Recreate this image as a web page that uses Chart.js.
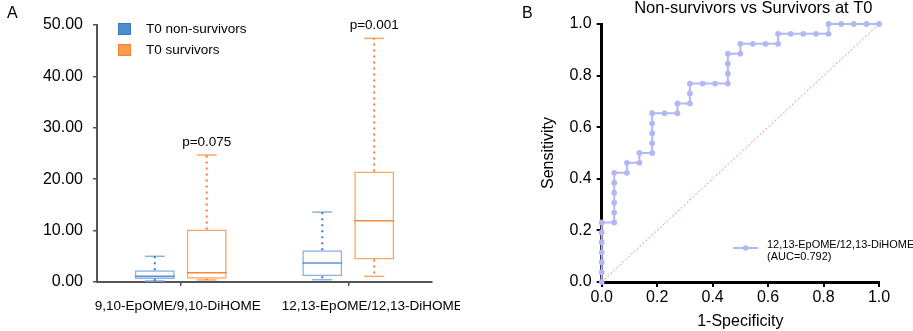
<html>

<head>
    <meta charset="utf-8">
    <title>EpOME / DiHOME</title>
    <script src="https://cdn.jsdelivr.net/npm/chart.js@4.4.1/dist/chart.umd.min.js"></script>
    <style>
        body { margin: 0; background: #fff; }
        canvas { position: absolute; top: 0; }
    </style>
</head>

<body>
    <canvas id="boxChart" width="460" height="331" style="left:0px"></canvas>
    <canvas id="rocChart" width="453" height="331" style="left:460px"></canvas>
    <script>
        // panel A: box plot values
        const categories = ['9,10-EpOME/9,10-DiHOME', '12,13-EpOME/12,13-DiHOME'];
        const nonSurvMin = [0.2, 0.45];
        const nonSurvQ1 = [0.6, 1.1];
        const nonSurvMed = [1.1, 3.7];
        const nonSurvQ3 = [2.3, 6.2];
        const nonSurvMax = [5.0, 13.6];
        const survMin = [0.4, 1.1];
        const survQ1 = [0.65, 4.4];
        const survMed = [1.8, 11.9];
        const survQ3 = [10.2, 21.5];
        const survMax = [24.7, 47.4];
        const pLabels = ['p=0.075', 'p=0.001'];

        // panel B: ROC curve
        const rocFpr = [0, 0, 0, 0, 0, 0, 0,
            0.045, 0.045, 0.045, 0.045, 0.045, 0.045,
            0.091, 0.091, 0.136, 0.136,
            0.182, 0.182, 0.182, 0.182, 0.182,
            0.227, 0.273, 0.273,
            0.318, 0.318, 0.318, 0.364, 0.409,
            0.455, 0.455, 0.455, 0.455,
            0.5, 0.5, 0.545, 0.591, 0.636, 0.636,
            0.682, 0.727, 0.773, 0.818, 0.818,
            0.864, 0.909, 0.955, 1.0];
        const rocSens = [0, 0.038, 0.077, 0.115, 0.154, 0.192, 0.231,
            0.231, 0.269, 0.308, 0.346, 0.385, 0.423,
            0.423, 0.462, 0.462, 0.5,
            0.5, 0.538, 0.577, 0.615, 0.654,
            0.654, 0.654, 0.692,
            0.692, 0.731, 0.769, 0.769, 0.769,
            0.769, 0.808, 0.846, 0.885,
            0.885, 0.923, 0.923, 0.923, 0.923, 0.962,
            0.962, 0.962, 0.962, 0.962, 1.0,
            1.0, 1.0, 1.0, 1.0];
        const refX = [0, 1];
        const refY = [0, 1];
        const rocLabel = ['12,13-EpOME/12,13-DiHOME', '(AUC=0.792)'];

        const FONT = "'Liberation Sans', Arial, sans-serif";
        const TEXT = '#000';
        const AXIS_GREY = '#555';
        Chart.defaults.font.family = FONT;
        Chart.defaults.color = TEXT;

        const BLUE = { box: '#8ab4e2', median: '#5d93d1', dot: '#3d7fc4', fill: '#4d8dcd', edge: '#3b78ba' };
        const ORANGE = { box: '#f8a764', median: '#f48a3c', dot: '#f47a2c', fill: '#fc9b4e', edge: '#f4822f' };

        function boxDataset(label, q1, q3, lo, med, hi, col) {
            return {
                label: label,
                data: q1.map((v, i) => [v, q3[i]]),
                lo: lo, med: med, hi: hi, col: col,
                backgroundColor: 'rgba(255,255,255,0)',
                borderColor: col.box,
                borderWidth: 1.5,
                borderSkipped: false,
                categoryPercentage: 0.62,
                barPercentage: 0.77
            };
        }

        // medians, whiskers, caps, p-values, legend and labels
        const boxPlugin = {
            id: 'boxExtras',
            afterDatasetsDraw(chart) {
                const ctx = chart.ctx;
                const y = chart.scales.y;
                const ca = chart.chartArea;
                ctx.save();
                chart.data.datasets.forEach((ds, di) => {
                    chart.getDatasetMeta(di).data.forEach((bar, i) => {
                        const half = bar.width / 2;
                        // median
                        ctx.strokeStyle = ds.col.median;
                        ctx.lineWidth = 1.5;
                        ctx.setLineDash([]);
                        ctx.beginPath();
                        ctx.moveTo(bar.x - half, y.getPixelForValue(ds.med[i]));
                        ctx.lineTo(bar.x + half, y.getPixelForValue(ds.med[i]));
                        ctx.stroke();
                        // caps
                        ctx.strokeStyle = ds.col.box;
                        [ds.lo[i], ds.hi[i]].forEach(v => {
                            ctx.beginPath();
                            ctx.moveTo(bar.x - half / 2, y.getPixelForValue(v));
                            ctx.lineTo(bar.x + half / 2, y.getPixelForValue(v));
                            ctx.stroke();
                        });
                        // dotted whiskers
                        ctx.strokeStyle = ds.col.dot;
                        ctx.lineWidth = 2;
                        ctx.setLineDash([2, 4]);
                        ctx.beginPath();
                        ctx.moveTo(bar.x, y.getPixelForValue(ds.data[i][1]));
                        ctx.lineTo(bar.x, y.getPixelForValue(ds.hi[i]));
                        ctx.moveTo(bar.x, y.getPixelForValue(ds.data[i][0]));
                        ctx.lineTo(bar.x, y.getPixelForValue(ds.lo[i]));
                        ctx.stroke();
                        ctx.setLineDash([]);
                        if (di === 1) {
                            ctx.fillStyle = TEXT;
                            ctx.font = '13.5px ' + FONT;
                            ctx.textAlign = 'center';
                            ctx.textBaseline = 'middle';
                            ctx.fillText(pLabels[i], bar.x, y.getPixelForValue(ds.hi[i]) - 13);
                        }
                    });
                });
                // legend
                ctx.font = '13.5px ' + FONT;
                ctx.textAlign = 'left';
                ctx.textBaseline = 'middle';
                chart.data.datasets.forEach((ds, di) => {
                    const ly = ca.top - 2 + di * 21;
                    ctx.fillStyle = ds.col.fill;
                    ctx.fillRect(ca.left + 21, ly, 13, 12);
                    ctx.strokeStyle = ds.col.edge;
                    ctx.lineWidth = 1;
                    ctx.strokeRect(ca.left + 21.5, ly + 0.5, 12, 11);
                    ctx.fillStyle = TEXT;
                    ctx.fillText(ds.label, ca.left + 49, ly + 6);
                });
                // category labels
                const x = chart.scales.x;
                const labelShift = [-3, 24];
                ctx.textAlign = 'center';
                categories.forEach((c, i) => {
                    ctx.fillText(c, x.getPixelForValue(i) + labelShift[i], ca.bottom + 24);
                });
                ctx.font = '16px ' + FONT;
                ctx.textAlign = 'left';
                ctx.fillText('A', 7, 14);
                ctx.restore();
            }
        };

        const boxChart = new Chart(document.getElementById('boxChart'), {
            type: 'bar',
            data: {
                labels: categories,
                datasets: [
                    boxDataset('T0 non-survivors', nonSurvQ1, nonSurvQ3, nonSurvMin, nonSurvMed, nonSurvMax, BLUE),
                    boxDataset('T0 survivors', survQ1, survQ3, survMin, survMed, survMax, ORANGE)
                ]
            },
            options: {
                responsive: false,
                animation: false,
                layout: { padding: { top: 25, right: 28, left: 0, bottom: 0 } },
                plugins: { legend: { display: false }, tooltip: { enabled: false } },
                scales: {
                    x: {
                        grid: { offset: false, drawOnChartArea: false, tickLength: 4, color: AXIS_GREY, lineWidth: 1.5 },
                        border: { color: AXIS_GREY, width: 2 },
                        ticks: { display: false },
                        afterFit: s => { s.height = 49; }
                    },
                    y: {
                        min: 0,
                        max: 50,
                        ticks: { stepSize: 10, callback: v => v.toFixed(2), padding: 10, font: { size: 16 } },
                        grid: { drawOnChartArea: false, tickLength: 4, color: AXIS_GREY, lineWidth: 1.5 },
                        border: { color: AXIS_GREY, width: 2 },
                        afterFit: s => { s.width = 97; }
                    }
                }
            },
            plugins: [boxPlugin]
        });

        // title, panel letter and legend of the ROC panel
        const rocPlugin = {
            id: 'rocExtras',
            afterDraw(chart) {
                const ctx = chart.ctx;
                const ca = chart.chartArea;
                const ds = chart.data.datasets[0];
                ctx.save();
                ctx.fillStyle = TEXT;
                ctx.textBaseline = 'middle';
                ctx.font = '16.5px ' + FONT;
                ctx.textAlign = 'center';
                ctx.fillText('Non-survivors vs Survivors at T0', (ca.left + ca.right) / 2 + 13, 8);
                ctx.font = '16px ' + FONT;
                ctx.textAlign = 'left';
                ctx.fillText('B', 62, 14);
                // legend
                const lx = ca.right - 146, ly = ca.bottom - 34;
                ctx.strokeStyle = ds.borderColor;
                ctx.lineWidth = 2;
                ctx.beginPath();
                ctx.moveTo(lx, ly);
                ctx.lineTo(lx + 25, ly);
                ctx.stroke();
                ctx.fillStyle = ds.backgroundColor;
                ctx.beginPath();
                ctx.arc(lx + 12.5, ly, 2.8, 0, Math.PI * 2);
                ctx.fill();
                ctx.fillStyle = TEXT;
                ctx.font = '11px ' + FONT;
                ctx.fillText(rocLabel[0], lx + 34, ly - 3);
                ctx.fillText(rocLabel[1], lx + 34, ly + 9);
                ctx.restore();
            }
        };

        const rocChart = new Chart(document.getElementById('rocChart'), {
            type: 'scatter',
            data: {
                datasets: [
                    {
                        label: rocLabel.join(' '),
                        data: rocFpr.map((v, i) => ({ x: v, y: rocSens[i] })),
                        showLine: true,
                        borderColor: '#b3b8f5',
                        backgroundColor: '#b3b8f5',
                        borderWidth: 2,
                        pointRadius: 2.9,
                        pointBorderWidth: 0,
                        clip: false
                    },
                    {
                        label: 'reference',
                        data: refX.map((v, i) => ({ x: v, y: refY[i] })),
                        showLine: true,
                        borderColor: '#f28a8a',
                        borderWidth: 1,
                        borderDash: [2, 2],
                        pointRadius: 0
                    }
                ]
            },
            options: {
                responsive: false,
                animation: false,
                layout: { padding: { top: 24, right: 34, left: 75, bottom: 0 } },
                plugins: { legend: { display: false }, tooltip: { enabled: false } },
                scales: {
                    x: {
                        type: 'linear',
                        min: 0,
                        max: 1,
                        ticks: { stepSize: 0.2, callback: v => v.toFixed(1), padding: 1, font: { size: 16 } },
                        title: { display: true, text: '1-Specificity', font: { size: 16 }, padding: 0 },
                        grid: { drawOnChartArea: false, tickLength: 5, color: '#000', lineWidth: 2 },
                        border: { color: '#000', width: 3 },
                        afterFit: s => { s.height = 49; }
                    },
                    y: {
                        min: 0,
                        max: 1,
                        ticks: { stepSize: 0.2, callback: v => v.toFixed(1), padding: 5, font: { size: 16 } },
                        title: { display: true, text: 'Sensitivity', font: { size: 16 }, padding: 4 },
                        grid: { drawOnChartArea: false, tickLength: 5, color: '#000', lineWidth: 2 },
                        border: { color: '#000', width: 3 },
                        afterFit: s => { s.width = 66.7; }
                    }
                }
            },
            plugins: [rocPlugin]
        });
    </script>
</body>

</html>
